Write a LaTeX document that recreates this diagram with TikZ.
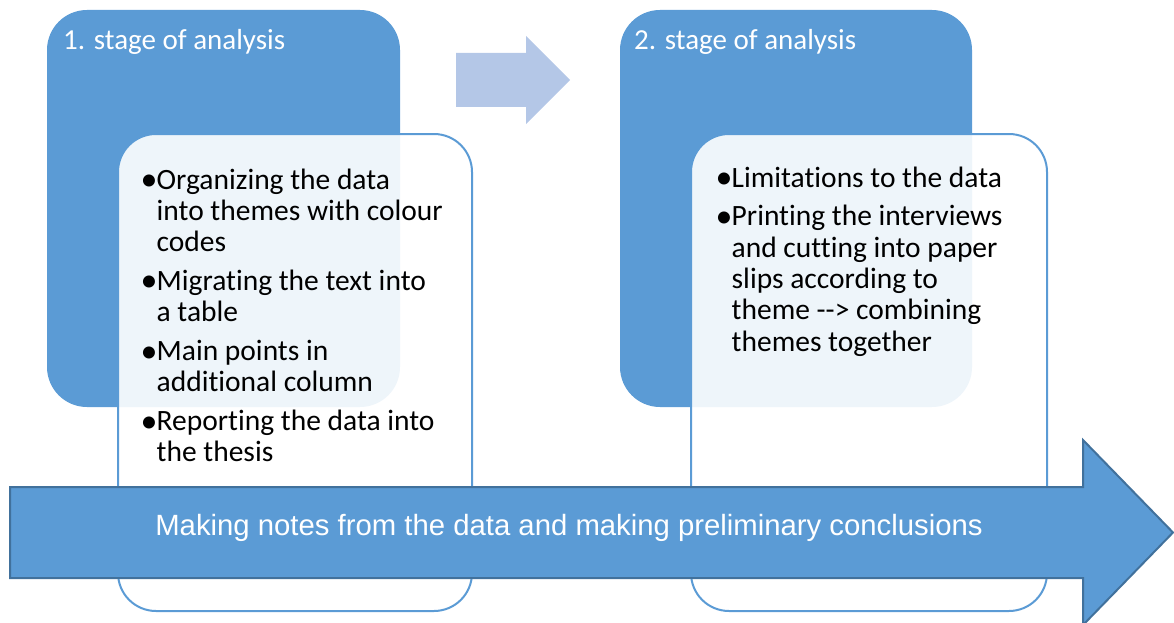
\documentclass[tikz,border=0pt]{standalone}
\usepackage{graphicx}
\usepackage{fontspec}
\setmainfont{Carlito}[Ligatures=NoCommon]
\newfontfamily\arrowfont{Liberation Sans}
\definecolor{accent}{HTML}{5B9BD5}
\definecolor{accentdark}{HTML}{41719C}
\definecolor{paleaccent}{HTML}{B4C7E7}

% bullet list with hanging indent and explicit line breaks
\newcommand\steplist[1]{\parbox[t]{400pt}{\fontsize{29.5}{31.3}\selectfont
  \setlength\parindent{0pt}\setlength\parskip{7.5pt}#1}}
\newcommand\bigbullet{\hspace*{-3.5pt}\raisebox{-1.5pt}{\scalebox{1.15}{•}}}
\newcommand\stepitem[1]{\hangindent=12.5pt\hangafter=1\makebox[12.5pt][l]{\bigbullet}#1\par}
\newcommand\nl{\hfill\break}

\tikzset{
  stagebox/.style={fill=accent, rounded corners=40pt},
  detailbox/.style={fill=white, fill opacity=0.9, draw=accent, line width=2pt, rounded corners=38pt},
  stagetitle/.style={anchor=base west, inner sep=0pt, text=white, font=\fontsize{29}{31}\selectfont},
  detailtext/.style={anchor=base west, inner sep=0pt, text=black},
  bigarrow/.style={fill=accent, draw=accentdark, line width=2pt, line join=miter},
  smallarrow/.style={fill=paleaccent},
  arrowlabel/.style={anchor=base, inner sep=0pt, text=white, font=\arrowfont\fontsize{29.3}{31}\selectfont},
}

\begin{document}
\begin{tikzpicture}[x=1pt, y=-1pt]
  \useasboundingbox (0,0) rectangle (1174,623);

  % stage panels
  \path[stagebox] (47,10) rectangle (400,407);
  \path[stagebox] (620,10) rectangle (972,407);

  % connecting arrow between the stages
  \path[smallarrow] (456,53) -- (526,53) -- (526,36) -- (570,80) -- (526,124) -- (526,107) -- (456,107) -- cycle;

  % detail cards
  \path[detailbox] (118,134) rectangle (472,611);
  \path[detailbox] (691,134) rectangle (1047,611);

  \node[stagetitle] (t1) at (63,50) {1. stage of analysis};
  \node[stagetitle] (t2) at (634,50) {2. stage of analysis};

  \node[detailtext] (l1) at (144,189) {\steplist{%
    \stepitem{Organizing the data\nl into themes with colour\nl codes}
    \stepitem{Migrating the text into\nl a table}
    \stepitem{Main points in\nl additional column}
    \stepitem{Reporting the data into\nl the thesis}}};

  \node[detailtext] (l2) at (719,187) {\steplist{%
    \stepitem{Limitations to the data}
    \stepitem{Printing the interviews\nl and cutting into paper\nl slips according to\nl theme -{}-> combining\nl themes together}}};

  % process arrow along the bottom
  \path[bigarrow] (10,487) -- (1083,487) -- (1083,440) -- (1173,532.5) -- (1083,625) -- (1083,578) -- (10,578) -- cycle;
  \node[arrowlabel] (note) at (569,535) {Making notes from the data and making preliminary conclusions};
\end{tikzpicture}
\end{document}
